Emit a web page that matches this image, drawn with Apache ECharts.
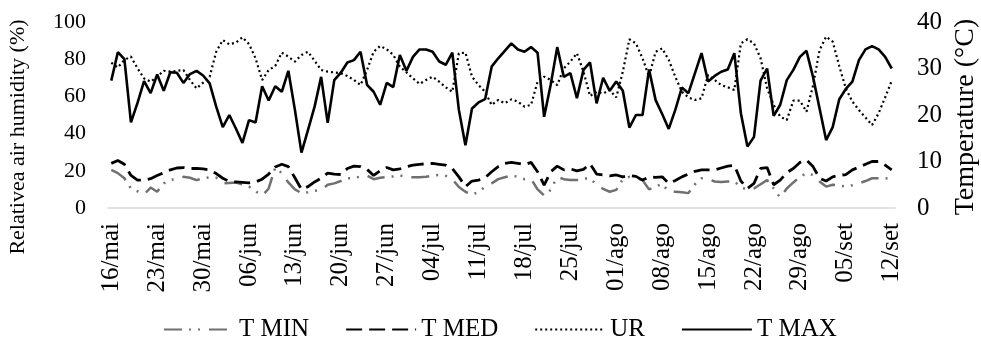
<!DOCTYPE html>
<html>
<head>
<meta charset="utf-8">
<script src="https://cdn.jsdelivr.net/npm/echarts@6/dist/echarts.min.js"></script>
<style>html,body{margin:0;padding:0;background:#fff}#c{width:981px;height:347px}</style>
</head>
<body>
<div id="c"></div>
<script>
// Month name, first day, last day (16/mai to 12/set)
const monthSpans = [['mai', 16, 31], ['jun', 1, 30], ['jul', 1, 31], ['ago', 1, 31], ['set', 1, 12]];
const categories = [];
monthSpans.forEach(function (m) {
  for (let d = m[1]; d <= m[2]; d++) categories.push((d < 10 ? '0' : '') + d + '/' + m[0]);
});

const seriesNames = ['T MIN', 'T MED', 'UR', 'T MAX'];
const leftTicks = [0, 20, 40, 60, 80, 100];
const rightTicks = [0, 10, 20, 30, 40];

const tMax = [27.4,33.5,32.0,18.4,22.6,27.3,24.7,28.7,25.2,29.2,29.1,26.9,28.8,29.5,28.5,26.8,21.8,17.4,20.0,17.1,
  14.0,18.9,18.4,26.2,23.1,26.2,25.0,29.5,21.1,11.9,16.8,21.8,28.2,18.3,27.5,29.1,31.3,31.8,33.6,26.5,
  25.0,22.2,26.9,26.0,32.9,29.5,32.5,34.1,34.1,33.6,31.5,30.8,33.4,21.1,13.5,21.4,22.7,23.4,30.4,32.2,
  33.8,35.4,34.1,33.6,34.6,33.4,19.6,26.5,34.6,28.2,29.0,23.6,29.7,31.3,22.5,28.0,25.2,27.2,25.2,17.3,
  20.0,20.0,29.8,23.2,20.2,17.0,21.1,25.9,24.7,29.0,33.3,27.2,28.4,29.3,29.8,33.3,20.4,13.2,15.3,27.4,
  30.0,19.8,22.2,27.5,29.7,32.5,33.8,28.2,21.4,14.6,17.4,23.4,25.6,27.2,31.8,34.1,34.8,34.1,32.5,30.0];

const tMed = [9.6,10.2,9.4,7.0,6.0,6.0,6.3,7.0,7.6,8.2,8.6,8.7,8.5,8.5,8.4,8.2,7.4,6.4,5.7,5.6,
  5.5,5.4,5.6,6.2,7.3,8.8,9.4,8.9,6.5,4.0,4.6,5.6,6.4,7.5,7.3,7.2,8.5,9.0,8.9,8.3,
  7.0,8.0,8.7,8.2,8.4,8.9,9.2,9.4,9.5,9.6,9.4,9.2,8.5,6.7,4.6,5.8,6.0,6.5,7.8,8.9,
  9.6,9.8,9.6,9.3,9.8,7.8,4.9,7.8,9.0,8.2,8.4,8.0,8.3,9.5,7.3,7.1,6.9,7.1,6.7,7.0,
  6.8,6.0,6.7,6.6,6.7,5.3,5.9,6.7,7.3,7.9,8.2,8.2,8.2,8.6,9.0,9.2,5.8,4.2,5.3,8.5,
  8.7,5.0,6.0,7.6,8.5,9.8,10.3,8.9,6.4,5.8,6.7,7.0,7.2,8.2,8.8,9.4,10.0,10.0,9.2,8.2];

const tMin = [8.2,7.5,6.4,4.2,3.6,2.9,4.4,3.5,5.3,6.0,6.3,6.7,6.5,6.0,6.4,6.6,6.5,5.3,5.4,5.5,
  5.1,4.6,3.6,2.6,4.2,8.7,7.5,5.5,4.0,3.2,3.4,3.7,3.9,5.0,5.3,5.8,6.4,6.4,6.8,7.0,
  6.2,6.5,6.7,6.8,7.0,6.7,6.6,6.6,6.7,7.0,7.1,6.9,6.2,4.5,3.5,2.9,3.4,4.6,5.3,6.2,
  6.6,7.0,6.7,6.2,6.3,4.0,2.7,3.9,6.7,6.2,6.0,6.0,6.3,6.4,5.0,4.1,3.5,3.9,6.2,6.7,
  6.5,6.0,4.0,4.6,5.2,3.5,3.5,3.4,3.2,5.1,6.4,6.2,5.7,5.6,5.7,5.7,4.5,3.9,4.2,5.1,
  6.0,4.2,2.2,4.2,5.5,6.7,7.5,7.1,5.7,4.6,5.0,4.8,4.6,4.9,5.3,5.8,6.4,6.4,6.4,6.2];

const ur = [78.1,75.6,79.6,81.4,75.1,69.7,67.9,70.6,73.8,73.3,73.7,74.2,68.8,64.3,67.4,70.6,84.0,90.3,88.0,88.9,
  91.8,88.1,80.5,68.8,74.2,76.3,83.5,81.4,78.7,82.3,84.0,79.2,74.2,73.3,72.9,72.4,71.0,68.8,66.1,74.2,
  84.0,87.1,85.3,82.3,76.0,72.9,69.7,66.7,68.8,70.6,67.9,64.9,62.5,83.2,83.5,70.6,66.1,62.5,55.4,58.1,
  56.3,58.4,57.2,54.5,55.4,67.9,70.6,68.8,66.1,75.1,78.7,83.2,73.3,60.2,62.5,61.6,63.4,59.5,73.3,90.7,
  88.5,80.5,70.6,84.0,85.8,79.6,70.6,62.5,59.5,58.1,59.0,71.5,68.8,66.1,64.9,63.4,88.5,90.7,88.5,80.5,
  64.3,55.4,49.1,47.3,57.7,57.7,51.8,65.8,84.9,92.1,89.4,76.3,64.3,57.2,52.7,48.7,44.6,50.9,59.5,68.4];

const FONT = "'Liberation Serif', 'Times New Roman', serif";
const chart = echarts.init(document.getElementById('c'), null, { renderer: 'canvas' });

chart.setOption({
  animation: false,
  backgroundColor: '#fff',
  grid: { left: 108, right: 86, top: 22, bottom: 139, containLabel: false },
  legend: {
    data: seriesNames,
    left: 158,
    top: 312,
    itemWidth: 70,
    itemHeight: 14,
    itemGap: 36,
    itemStyle: { opacity: 0, borderWidth: 0 },
    textStyle: { fontFamily: FONT, fontSize: 25, color: '#000' }
  },
  xAxis: {
    type: 'category',
    data: categories,
    boundaryGap: true,
    axisLine: { lineStyle: { color: '#d9d9d9', width: 1.5 } },
    axisTick: { interval: 6, length: 6, lineStyle: { color: '#d9d9d9', width: 1.5 } },
    axisLabel: { interval: 6, rotate: 90, margin: 15, fontFamily: FONT, fontSize: 25, color: '#000' },
    splitLine: { show: false }
  },
  yAxis: [
    {
      type: 'value', min: leftTicks[0], max: leftTicks[leftTicks.length - 1], interval: 20,
      axisLine: { show: false }, axisTick: { show: false }, splitLine: { show: false },
      axisLabel: { margin: 22, fontFamily: FONT, fontSize: 22, color: '#000' }
    },
    {
      type: 'value', min: rightTicks[0], max: rightTicks[rightTicks.length - 1], interval: 10,
      axisLine: { show: false }, axisTick: { show: false }, splitLine: { show: false },
      axisLabel: { margin: 22, fontFamily: FONT, fontSize: 25, color: '#000' }
    }
  ],
  graphic: [
    { type: 'text', x: 18, y: 137, rotation: Math.PI / 2,
      style: { text: 'Relativea air humidity (%)', font: '22px ' + FONT, fill: '#000', textAlign: 'center', textVerticalAlign: 'middle' } },
    { type: 'text', x: 966, y: 117, rotation: Math.PI / 2,
      style: { text: 'Temperature (°C)', font: '28px ' + FONT, fill: '#000', textAlign: 'center', textVerticalAlign: 'middle' } }
  ],
  series: [
    { name: 'T MIN', type: 'line', yAxisIndex: 1, data: tMin, symbol: 'none',
      lineStyle: { color: '#707070', width: 2.5, type: [18, 7, 2, 7, 2, 9] }, itemStyle: { color: '#707070' } },
    { name: 'T MED', type: 'line', yAxisIndex: 1, data: tMed, symbol: 'none',
      lineStyle: { color: '#000', width: 2.8, type: [16, 7] }, itemStyle: { color: '#000' } },
    { name: 'UR', type: 'line', yAxisIndex: 0, data: ur, symbol: 'none',
      lineStyle: { color: '#000', width: 2.2, type: [2, 3] }, itemStyle: { color: '#000' } },
    { name: 'T MAX', type: 'line', yAxisIndex: 1, data: tMax, symbol: 'none',
      lineStyle: { color: '#000', width: 2.6 }, itemStyle: { color: '#000' } }
  ]
});
</script>
</body>
</html>
